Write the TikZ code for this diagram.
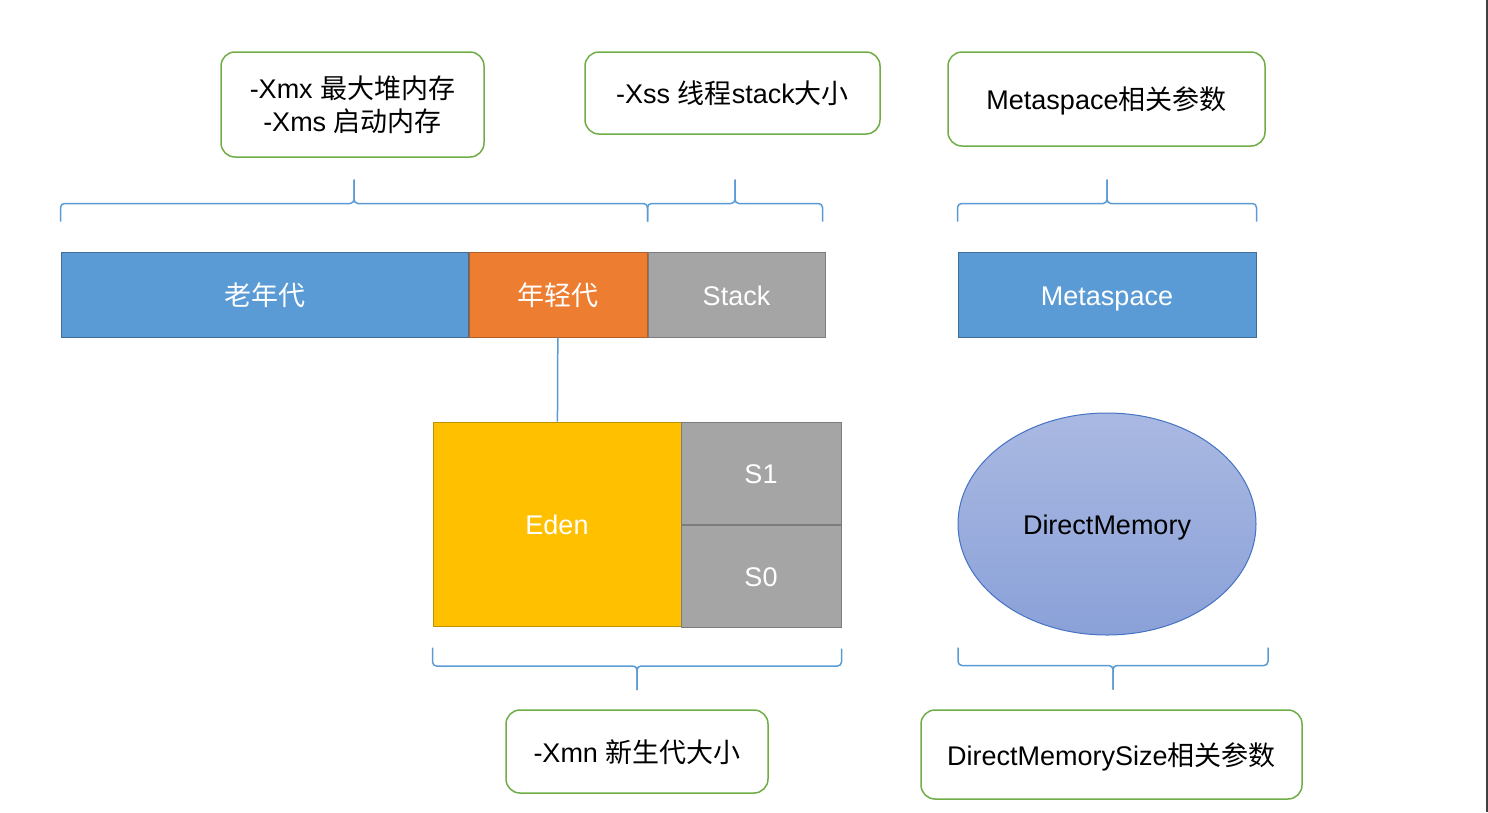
\documentclass[tikz,border=0pt]{standalone}
\usepackage{fontspec}
\setmainfont{Liberation Sans}
\newfontfamily\cjk{Noto Sans CJK SC}
\newcommand{\zh}[1]{{\cjk #1}}
\usetikzlibrary{positioning,shapes.geometric,calc}

\definecolor{boxgreen}{RGB}{112,173,71}
\definecolor{braceblue}{RGB}{91,155,213}
\definecolor{oldblue}{RGB}{91,155,213}
\definecolor{youngorange}{RGB}{237,125,49}
\definecolor{stackgray}{RGB}{165,165,165}
\definecolor{edenyellow}{RGB}{255,192,0}
\definecolor{dmtop}{RGB}{170,185,226}
\definecolor{dmbottom}{RGB}{138,161,216}
\definecolor{dmline}{RGB}{68,114,196}

% brace between two end points: #3 = 1 tip up, -1 tip down
\newcommand{\membrace}[3]{%
  \draw[brc] (#1) |- ($(#1)!0.5!(#2)+(0,-18*#3)$) -- ++(0,-24*#3);
  \draw[brc] (#2) |- ($(#1)!0.5!(#2)+(0,-18*#3)$) -- ++(0,-24*#3);}

\begin{document}
\begin{tikzpicture}[x=1pt, y=-1pt]
    \tikzset{note/.style={draw=boxgreen, line width=1.5pt, rounded corners=14pt, fill=white,
        align=center, inner sep=0pt, font=\fontsize{27}{33}\selectfont},
      seg/.style={draw, line width=1pt, inner sep=0pt, minimum height=85pt, text=white,
        text height=21pt, text depth=0pt, font=\fontsize{27}{33}\selectfont},
      brc/.style={draw=braceblue, line width=1.5pt, rounded corners=4pt}
    }
    \useasboundingbox (0,0) rectangle (1488,812);

    % parameter boxes
    \node[note, minimum width=263pt, minimum height=105pt] (xmx) at (352.5,104.5)
      {-Xmx \zh{最大堆内存}\\-Xms \zh{启动内存}};
    \node[note, minimum width=295pt, minimum height=82pt, text height=21pt, text depth=0pt] (xss) at (732.5,93)
      {-Xss \zh{线程}stack\zh{大小}};
    \node[note, minimum width=317pt, minimum height=94pt, text height=21pt, text depth=0pt] (metaparam) at (1106.5,99)
      {Metaspace\zh{相关参数}};

    % memory regions
    \node[seg, fill=oldblue, draw=oldblue!70!black, minimum width=407pt] (old) at (264.5,294.5) {\zh{老年代}};
    \node[seg, fill=youngorange, draw=youngorange!75!black, minimum width=178pt, right=0pt of old] (young) {\zh{年轻代}};
    \node[seg, fill=stackgray, draw=stackgray!75!black, minimum width=177pt, right=0pt of young] (stack) {Stack};
    \node[seg, fill=oldblue, draw=oldblue!70!black, minimum width=298pt] (meta) at (1107,294.5) {Metaspace};

    \node[seg, fill=edenyellow, draw=edenyellow!75!black, minimum width=248pt, minimum height=204pt] (eden) at (557,524) {Eden};
    \node[seg, fill=stackgray, draw=stackgray!75!black, minimum width=160pt, minimum height=102pt] (s1) at (761,473) {S1};
    \node[seg, fill=stackgray, draw=stackgray!75!black, minimum width=160pt, minimum height=102pt, below=0pt of s1] (s0) {S0};

    \node[ellipse, draw=dmline, line width=1pt, top color=dmtop, bottom color=dmbottom, inner sep=0pt,
      minimum width=298pt, minimum height=222pt, text height=21pt, text depth=0pt,
      font=\fontsize{27}{33}\selectfont] (dm) at (1107,524) {DirectMemory};

    \node[note, minimum width=262pt, minimum height=83pt, text height=21pt, text depth=0pt] (xmn) at (637,751.5) {-Xmn \zh{新生代大小}};
    \node[note, minimum width=381pt, minimum height=89pt, text height=21pt, text depth=0pt] (dmparam) at (1111.5,754.5)
      {DirectMemorySize\zh{相关参数}};

    \draw[braceblue, line width=1.5pt] (young) -- (eden);

    % braces
    \coordinate (heapl) at ([yshift=30pt]old.north west);
    \coordinate (heapr) at ([yshift=30pt]young.north east);
    \coordinate (stackl) at ([yshift=30pt]stack.north west);
    \coordinate (stackr) at ([xshift=-3pt, yshift=30pt]stack.north east);
    \coordinate (metal) at ([yshift=30pt]meta.north west);
    \coordinate (metar) at ([yshift=30pt]meta.north east);
    \coordinate (newl) at ([yshift=-21pt]eden.south west);
    \coordinate (newr) at ([yshift=-21pt]s0.south east);
    \coordinate (dml) at ([shift={(-149pt,-12pt)}]dm.south);
    \coordinate (dmr) at ([shift={(161pt,-12pt)}]dm.south);
    \membrace{heapl}{heapr}{1}
    \membrace{stackl}{stackr}{1}
    \membrace{metal}{metar}{1}
    \membrace{newl}{newr}{-1}
    \membrace{dml}{dmr}{-1}

    \draw[black!75, line width=1.5pt] (1487,0) -- (1487,812);
\end{tikzpicture}
\end{document}
